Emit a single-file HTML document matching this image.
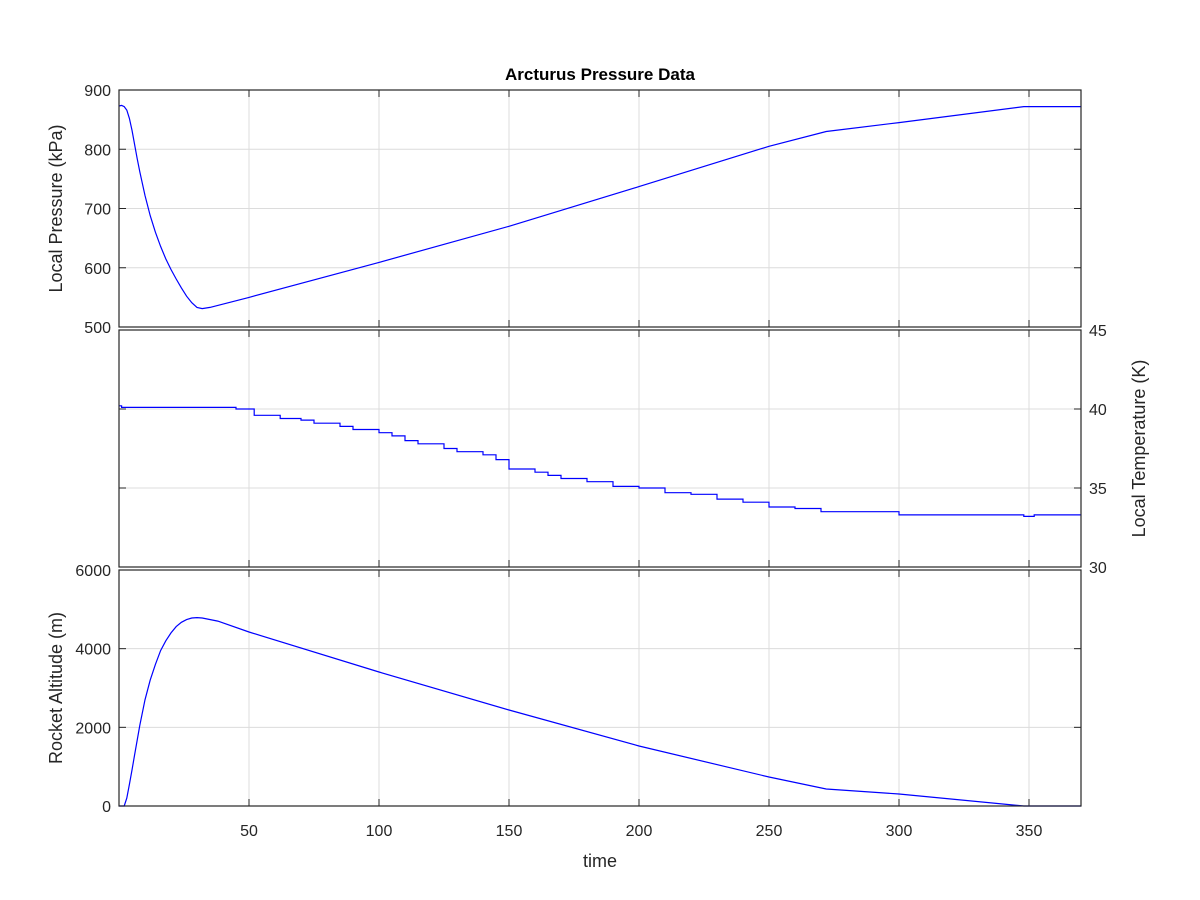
<!DOCTYPE html>
<html><head><meta charset="utf-8"><style>
html,body{margin:0;padding:0;background:#fff;}
svg{display:block;font-family:"Liberation Sans",Arial,sans-serif;}
</style></head><body>
<svg id="chart" width="1200" height="900" xmlns="http://www.w3.org/2000/svg"></svg>
<script>
const timeP=[0,1,2,3,4,5,6,7,8,9,10,12,14,16,18,20,22,24,26,28,30,32,35,50,100,150,200,250,272,300,348,370];
const pressure=[873,874,872,866,852,832,808,784,762,742,722,688,660,636,615,597,581,566,552,541,533,531,533,550,609,670,737,805,830,845,872,872];
const timeT=[0,1,2,35,45,50,52,60,62,70,75,85,90,100,105,110,115,125,130,140,145,150,160,165,170,180,190,200,210,220,230,240,250,260,270,300,348,352,370];
const temperature=[40.2,40.1,40.1,40.1,40.0,40.0,39.6,39.6,39.4,39.3,39.1,38.9,38.7,38.5,38.3,38.0,37.8,37.5,37.3,37.1,36.8,36.2,36.0,35.8,35.6,35.4,35.1,35.0,34.7,34.6,34.3,34.1,33.8,33.7,33.5,33.3,33.2,33.3,33.3];
const timeA=[0,2,3,4,5,6,8,10,12,14,16,18,20,22,24,26,28,30,32,38,50,100,150,200,250,272,300,348,370];
const altitude=[0,0,200,550,915,1300,2050,2700,3200,3600,3950,4200,4400,4560,4670,4740,4780,4790,4780,4700,4424,3407,2440,1525,737,432,305,0,0];
const xTicks=[50,100,150,200,250,300,350];
const pTicks=[500,600,700,800,900];
const tTicks=[30,35,40,45];
const aTicks=[0,2000,4000,6000];

const svg=document.getElementById('chart');
const NS='http://www.w3.org/2000/svg';
function mk(tag,attrs,parent){const e=document.createElementNS(NS,tag);for(const k in attrs)e.setAttribute(k,attrs[k]);(parent||svg).appendChild(e);return e;}
const L=119,R=1081;
const xs=t=>L+(t-0)/370*(R-L);
function yAxis(top,bot,min,max){return v=>bot-(v-min)/(max-min)*(bot-top);}
const panels=[
 {name:'pressure',top:90,bot:327,min:500,max:900,ticks:pTicks,side:'left',tx:timeP,ty:pressure,label:'Local Pressure (kPa)',step:false},
 {name:'temperature',top:330,bot:567,min:30,max:45,ticks:tTicks,side:'right',tx:timeT,ty:temperature,label:'Local Temperature (K)',step:true},
 {name:'altitude',top:570,bot:806,min:0,max:6000,ticks:aTicks,side:'left',tx:timeA,ty:altitude,label:'Rocket Altitude (m)',step:false}
];
panels.forEach((p,i)=>{
 const g=mk('g',{});
 
 
 const ys=yAxis(p.top,p.bot,p.min,p.max);
 xTicks.forEach(t=>{
  mk('line',{x1:xs(t),x2:xs(t),y1:p.top,y2:p.bot,stroke:'#dcdcdc','stroke-width':1},g);
  mk('line',{x1:xs(t),x2:xs(t),y1:p.bot,y2:p.bot-7,stroke:'#262626'},g);
  mk('line',{x1:xs(t),x2:xs(t),y1:p.top,y2:p.top+7,stroke:'#262626'},g);
 });
 p.ticks.forEach(v=>{
  const y=ys(v);
  if(v!==p.min&&v!==p.max)mk('line',{x1:L,x2:R,y1:y,y2:y,stroke:'#dcdcdc'},g);
  mk('line',{x1:L,x2:L+7,y1:y,y2:y,stroke:'#262626'},g);
  mk('line',{x1:R,x2:R-7,y1:y,y2:y,stroke:'#262626'},g);
  const t=mk('text',{x:p.side==='left'?L-8:R+8,y:y+6,'text-anchor':p.side==='left'?'end':'start','font-size':16,fill:'#262626'},g);
  t.textContent=v;
  
  
 });
 let pts=[];
 p.tx.forEach((t,k)=>{
  if(p.step&&k>0)pts.push(xs(t).toFixed(1)+','+ys(p.ty[k-1]).toFixed(1));
  pts.push(xs(t).toFixed(1)+','+ys(p.ty[k]).toFixed(1));
 });
 const line=mk('polyline',{points:pts.join(' '),fill:'none',stroke:'#0000ff','stroke-width':1.2},g);
 
 
 mk('rect',{x:L,y:p.top,width:R-L,height:p.bot-p.top,fill:'none',stroke:'#262626','stroke-width':1.2},g);
 const cy=(p.top+p.bot)/2;
 const lx=p.side==='left'?62:1145;
 const lab=mk('text',{x:lx,y:cy,'text-anchor':'middle','font-size':18,fill:'#262626',transform:`rotate(-90 ${lx} ${cy})`},g);
 lab.textContent=p.label;
 
 
 if(i===2){
  xTicks.forEach(t=>{
   const tl=mk('text',{x:xs(t),y:p.bot+30,'text-anchor':'middle','font-size':16,fill:'#262626'},g);
   tl.textContent=t;
   
   
  });
 }
});
const title=mk('text',{x:600,y:80,'text-anchor':'middle','font-size':17,'font-weight':'bold',fill:'#000'});
title.textContent='Arcturus Pressure Data';


const xt=mk('text',{x:600,y:867,'text-anchor':'middle','font-size':18,fill:'#262626'});
xt.textContent='time';


</script>
</body></html>
